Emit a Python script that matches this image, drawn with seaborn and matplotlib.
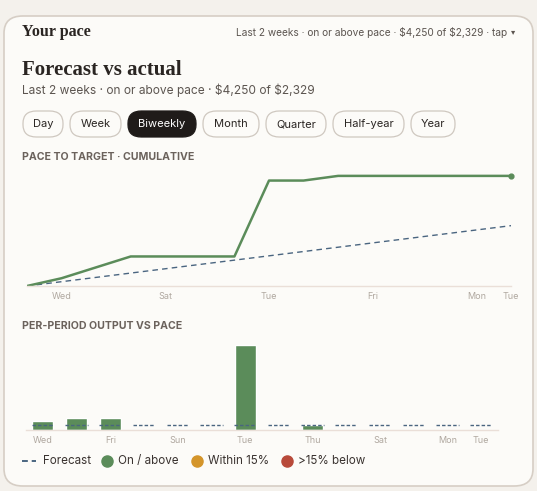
import numpy as np
import pandas as pd
import matplotlib
matplotlib.use("Agg")
import matplotlib.pyplot as plt
from matplotlib.patches import FancyBboxPatch, Circle
from matplotlib.lines import Line2D
import seaborn as sns

# data
cum_days = list(range(15))
cum_actual = [0, 300, 720, 1140, 1140, 1140, 1140, 4070, 4070, 4250, 4250, 4250, 4250, 4250, 4250]
pace_total = 2329
cum_labels = {1: "Wed", 4: "Sat", 7: "Tue", 10: "Fri", 13: "Mon", 14: "Tue"}

bar_days = list(range(14))
bar_output = [300, 420, 420, 0, 0, 0, 2930, 0, 180, 0, 0, 0, 0, 0]
bar_pace = pace_total / 14
bar_labels = {0: "Wed", 2: "Fri", 4: "Sun", 6: "Tue", 8: "Thu", 10: "Sat", 12: "Mon", 13: "Tue"}

pills = ["Day", "Week", "Biweekly", "Month", "Quarter", "Half-year", "Year"]
pill_x = [(23, 63), (70, 121), (128, 196), (203, 259), (266, 326), (333, 404), (411, 455)]

GREEN = "#5b8c5a"
PACE = "#4a6580"
W, H = 537, 491

sns.set_theme(style="white")
plt.rcParams["font.family"] = ["Inter", "DejaVu Sans"]
fig = plt.figure(figsize=(W / 100, H / 100), dpi=100)
fig.patch.set_facecolor("#f4f1ec")

def px(x, y):
    return x / W, 1 - y / H

# card
card = FancyBboxPatch(px(4, 486), 529 / W, 470 / H, boxstyle="round,pad=0,rounding_size=0.035",
                      transform=fig.transFigure, facecolor="#fcfbf8", edgecolor="#d6cec5",
                      linewidth=1.2, zorder=-10)
fig.patches.append(card)

serif = ["Liberation Serif", "DejaVu Serif"]
fig.text(*px(22, 32), "Your pace", family=serif, fontsize=11.5, weight="bold", color="#2a2522", va="center")
fig.text(*px(507, 32), "Last 2 weeks · on or above pace · \\$4,250 of \\$2,329 · tap", fontsize=7.3,
         color="#5c5550", ha="right", va="center")
fig.text(*px(513, 32), "▾", family="DejaVu Sans", fontsize=6, color="#5c5550", ha="center", va="center")
fig.text(*px(22, 70), "Forecast vs actual", family=serif, fontsize=15, weight="bold", color="#2a2522", va="center")
fig.text(*px(22, 90), "Last 2 weeks · on or above pace · \\$4,250 of \\$2,329", fontsize=8.6,
         color="#5c5550", va="center")

for lab, (x0, x1) in zip(pills, pill_x):
    active = lab == "Biweekly"
    p = FancyBboxPatch(px(x0, 137), (x1 - x0) / W, 26 / H, boxstyle="round,pad=0,rounding_size=0.025",
                       transform=fig.transFigure, facecolor="#1f1b19" if active else "#fcfbf8",
                       edgecolor="#1f1b19" if active else "#cfc8c0", linewidth=0.9, zorder=-5)
    fig.patches.append(p)
    fig.text(*px((x0 + x1) / 2, 124), lab, fontsize=8, ha="center", va="center",
             color="white" if active else "#2a2522")

fig.text(*px(22, 157), "PACE TO TARGET · CUMULATIVE", fontsize=7.6, weight="bold", color="#6b625c", va="center")
fig.text(*px(22, 326), "PER-PERIOD OUTPUT VS PACE", fontsize=7.6, weight="bold", color="#6b625c", va="center")

# top chart
ax1 = fig.add_axes([27 / W, 1 - 286 / H, 484 / W, 114 / H])
df1 = pd.DataFrame({"day": cum_days, "actual": cum_actual,
                    "pace": [pace_total * d / 14 for d in cum_days]})
sns.lineplot(data=df1, x="day", y="pace", ax=ax1, color=PACE, linewidth=1.0, linestyle=(0, (4, 3)))
sns.lineplot(data=df1, x="day", y="actual", ax=ax1, color=GREEN, linewidth=1.8)
ax1.scatter([cum_days[-1]], [cum_actual[-1]], color=GREEN, s=12, zorder=5, clip_on=False)
ax1.set_xlim(0, 14)
ax1.set_ylim(0, 4400)
ax1.set_xticks(list(cum_labels.keys()))
ax1.set_xticklabels(list(cum_labels.values()))

# bottom chart
ax2 = fig.add_axes([26 / W, 1 - 430 / H, 472 / W, 87 / H])
df2 = pd.DataFrame({"day": bar_days, "out": bar_output})
sns.barplot(data=df2, x="day", y="out", ax=ax2, color=GREEN, width=0.62, saturation=1, native_scale=True)
for d in bar_days:
    ax2.plot([d - 0.33, d + 0.33], [bar_pace, bar_pace], color=PACE, linewidth=1.0,
             linestyle=(0, (2.5, 1.5)), zorder=5)
ax2.set_xlim(-0.5, 13.5)
ax2.set_ylim(0, 3000)
ax2.set_xticks(list(bar_labels.keys()))
ax2.set_xticklabels(list(bar_labels.values()))

for ax in (ax1, ax2):
    ax.set_facecolor("none")
    ax.set_xlabel("")
    ax.set_ylabel("")
    ax.set_yticks([])
    for s in ["top", "right", "left"]:
        ax.spines[s].set_visible(False)
    ax.spines["bottom"].set_color("#eadfd8")
    ax.spines["bottom"].set_linewidth(1)
    ax.tick_params(axis="x", length=0, pad=4, labelsize=6.5, labelcolor="#b0a8a0")

# legend
ly = 461
fig.add_artist(Line2D([22 / W, 36 / W], [1 - ly / H] * 2, color=PACE, linewidth=1.4, linestyle=(0, (3, 2))))
fig.text(*px(43, ly), "Forecast", fontsize=8.4, color="#3a3330", va="center")
for cx, col, lab in [(107, GREEN, "On / above"), (197, "#d4952a", "Within 15%"), (287, "#b84a3a", ">15% below")]:
    fig.add_artist(Line2D([cx / W], [1 - ly / H], marker="o", markersize=8, color=col, linestyle="none"))
    fig.text(*px(cx + 11, ly), lab, fontsize=8.4, color="#3a3330", va="center")

fig.savefig("out.png", dpi=100, facecolor=fig.get_facecolor())
